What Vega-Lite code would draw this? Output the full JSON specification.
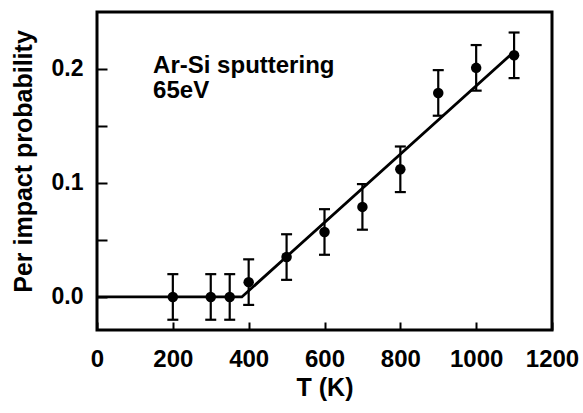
{
  "$schema": "https://vega.github.io/schema/vega-lite/v6.json",
  "width": 455,
  "height": 318,
  "autosize": "none",
  "padding": {"left": 97, "top": 12, "right": 31, "bottom": 83},
  "background": "white",
  "config": {
    "view": {"stroke": "black", "strokeWidth": 3},
    "font": "Liberation Sans",
    "axis": {
      "domain": false,
      "grid": false,
      "tickColor": "black",
      "tickWidth": 2,
      "labelFont": "Liberation Sans",
      "labelFontWeight": "bold",
      "labelColor": "black",
      "titleFont": "Liberation Sans",
      "titleFontWeight": "bold",
      "titleFontSize": 25,
      "titleColor": "black"
    }
  },
  "datasets": {
    "pts": [
      {"T": 200, "p": 0.0, "lo": -0.02, "hi": 0.02},
      {"T": 300, "p": 0.0, "lo": -0.02, "hi": 0.02},
      {"T": 350, "p": 0.0, "lo": -0.02, "hi": 0.02},
      {"T": 400, "p": 0.013, "lo": -0.007, "hi": 0.033},
      {"T": 500, "p": 0.035, "lo": 0.015, "hi": 0.055},
      {"T": 600, "p": 0.057, "lo": 0.037, "hi": 0.077},
      {"T": 700, "p": 0.079, "lo": 0.059, "hi": 0.099},
      {"T": 800, "p": 0.112, "lo": 0.092, "hi": 0.132},
      {"T": 900, "p": 0.179, "lo": 0.159, "hi": 0.199},
      {"T": 1000, "p": 0.201, "lo": 0.181, "hi": 0.221},
      {"T": 1100, "p": 0.212, "lo": 0.192, "hi": 0.232}
    ],
    "fit": [
      {"T": 0, "p": 0.0},
      {"T": 382, "p": 0.0},
      {"T": 1093, "p": 0.213}
    ]
  },
  "layer": [
    {
      "data": {"name": "fit"},
      "mark": {"type": "line", "color": "black", "strokeWidth": 2.8, "clip": true},
      "encoding": {
        "x": {
          "field": "T", "type": "quantitative",
          "scale": {"domain": [0, 1200], "nice": false, "zero": false},
          "axis": {"title": "T (K)", "values": [0, 200, 400, 600, 800, 1000, 1200], "format": "d", "labelFontSize": 24, "tickSize": -8, "labelPadding": 25, "titlePadding": 4, "labelFlush": false}
        },
        "y": {
          "field": "p", "type": "quantitative",
          "scale": {"domain": [-0.029, 0.25], "nice": false, "zero": false},
          "axis": {"title": "Per impact probability", "values": [0, 0.05, 0.1, 0.15, 0.2], "labelExpr": "round(datum.value*100) % 10 == 0 ? format(datum.value, '.1f') : ''", "labelFontSize": 23, "tickSize": -10, "labelPadding": 24, "titlePadding": 15, "titleY": 149}
        }
      }
    },
    {
      "data": {"name": "pts"},
      "mark": {"type": "rule", "color": "black", "strokeWidth": 2.2},
      "encoding": {
        "x": {"field": "T", "type": "quantitative"},
        "y": {"field": "lo", "type": "quantitative"},
        "y2": {"field": "hi"}
      }
    },
    {
      "data": {"name": "pts"},
      "mark": {"type": "tick", "orient": "horizontal", "color": "black", "size": 11, "thickness": 2.2, "opacity": 1},
      "encoding": {
        "x": {"field": "T", "type": "quantitative"},
        "y": {"field": "lo", "type": "quantitative"}
      }
    },
    {
      "data": {"name": "pts"},
      "mark": {"type": "tick", "orient": "horizontal", "color": "black", "size": 11, "thickness": 2.2, "opacity": 1},
      "encoding": {
        "x": {"field": "T", "type": "quantitative"},
        "y": {"field": "hi", "type": "quantitative"}
      }
    },
    {
      "data": {"name": "pts"},
      "mark": {"type": "circle", "color": "black", "size": 110, "opacity": 1},
      "encoding": {
        "x": {"field": "T", "type": "quantitative"},
        "y": {"field": "p", "type": "quantitative"}
      }
    },
    {
      "data": {"values": [{}]},
      "mark": {"type": "text", "text": ["Ar-Si sputtering", "65eV"], "align": "left", "baseline": "alphabetic", "fontSize": 24, "fontWeight": "bold", "font": "Liberation Sans", "lineHeight": 25, "color": "black"},
      "encoding": {
        "x": {"datum": 148, "type": "quantitative"},
        "y": {"datum": 0.1965, "type": "quantitative"}
      }
    }
  ]
}
